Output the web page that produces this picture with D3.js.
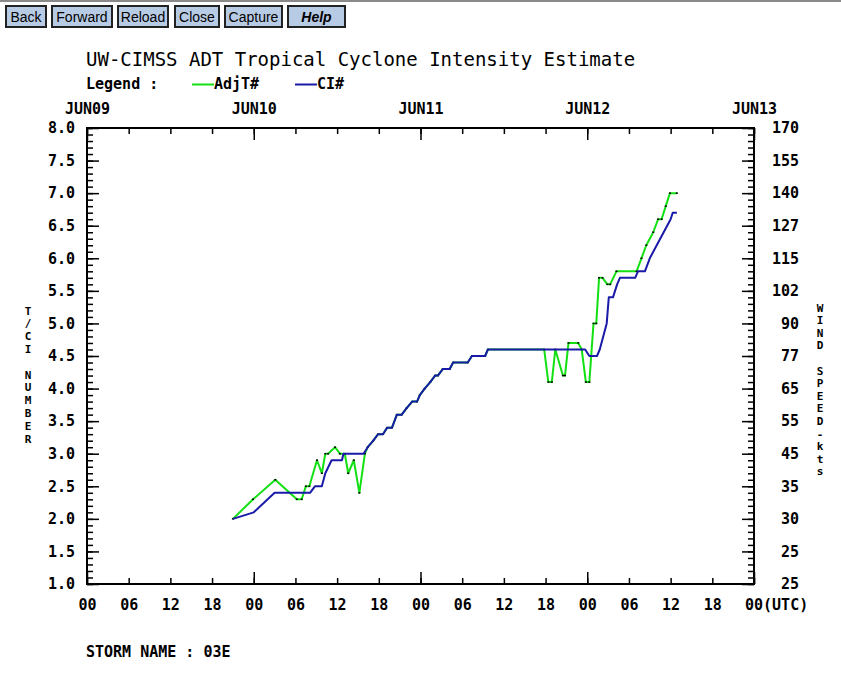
<!DOCTYPE html>
<html lang="en">
<head>
<meta charset="UTF-8">
<title>UW-CIMSS ADT Tropical Cyclone Intensity Estimate</title>
<script src="https://cdn.jsdelivr.net/npm/d3@7"></script>
<style>
  body { margin: 0; background: #fff; }
  svg { display: block; }
  .mono { font-family: "DejaVu Sans Mono", monospace; }
  .tick text { font-family: "DejaVu Sans Mono", monospace; font-size: 15px; font-weight: bold; fill: #000; }
  .tick line { stroke: #000; stroke-width: 1.5; }
  .domain { display: none; }
</style>
</head>
<body>
<svg id="chart" width="841" height="691"></svg>
<script>
// hours since JUN09 00 UTC
const ciTime  = [21, 24, 27, 32.1, 32.8, 33.8, 34.3, 35.2, 36.7, 36.9, 39.8, 40.4, 41.2, 41.9, 42.6, 43.2, 43.9, 44.6, 45.3, 46.0,
                 46.8, 47.5, 47.9, 48.6, 49.4, 50.1, 50.5, 51.2, 52.2, 52.7, 54.8, 55.4, 57.3, 57.7, 71.7, 72.3, 73.4, 73.8, 74.3, 74.8,
                 75.1, 75.7, 76.3, 76.7, 78.9, 79.3, 80.3, 81.0, 82.0, 83.0, 84.0, 84.3, 84.9];
const ciValue = [2.0, 2.1, 2.4, 2.4, 2.5, 2.5, 2.7, 2.9, 2.9, 3.0, 3.0, 3.1, 3.2, 3.3, 3.3, 3.4, 3.4, 3.6, 3.6, 3.7,
                 3.8, 3.8, 3.9, 4.0, 4.1, 4.2, 4.2, 4.3, 4.3, 4.4, 4.4, 4.5, 4.5, 4.6, 4.6, 4.5, 4.5, 4.6, 4.8, 5.0,
                 5.4, 5.4, 5.6, 5.7, 5.7, 5.8, 5.8, 6.0, 6.2, 6.4, 6.6, 6.7, 6.7];

const adjTime  = [21, 23.9, 27.1, 30.2, 30.9, 31.5, 32.0, 33.1, 33.8, 34.3, 34.7, 35.7, 36.4, 37.1, 37.6, 38.4, 39.2, 40.0,
                  40.4, 41.2, 41.9, 42.6, 43.2, 43.9, 44.6, 45.3, 46.0, 46.8, 47.5, 47.9, 48.6, 49.4, 50.1, 50.5, 51.2, 52.2,
                  52.7, 54.8, 55.4, 57.3, 57.7, 65.8, 66.4, 66.9, 67.4, 68.5, 68.8, 69.3, 70.7, 71.2, 71.8, 72.3, 72.9, 73.3,
                  73.7, 74.2, 74.9, 75.3, 76.2, 79.1, 79.8, 80.5, 81.5, 82.2, 82.7, 83.3, 83.9, 84.9];
const adjValue = [2.0, 2.3, 2.6, 2.3, 2.3, 2.5, 2.5, 2.9, 2.7, 3.0, 3.0, 3.1, 3.0, 3.0, 2.7, 2.9, 2.4, 3.0,
                  3.1, 3.2, 3.3, 3.3, 3.4, 3.4, 3.6, 3.6, 3.7, 3.8, 3.8, 3.9, 4.0, 4.1, 4.2, 4.2, 4.3, 4.3,
                  4.4, 4.4, 4.5, 4.5, 4.6, 4.6, 4.1, 4.1, 4.6, 4.2, 4.2, 4.7, 4.7, 4.6, 4.1, 4.1, 5.0, 5.0,
                  5.7, 5.7, 5.6, 5.6, 5.8, 5.8, 6.0, 6.2, 6.4, 6.6, 6.6, 6.8, 7.0, 7.0];

const tLabels    = [1.0, 1.5, 2.0, 2.5, 3.0, 3.5, 4.0, 4.5, 5.0, 5.5, 6.0, 6.5, 7.0, 7.5, 8.0];
const windLabels = ["25", "25", "30", "35", "45", "55", "65", "77", "90", "102", "115", "127", "140", "155", "170"];
const dayLabels  = ["JUN09", "JUN10", "JUN11", "JUN12", "JUN13"];
const hourLabels = ["00", "06", "12", "18"];
const buttons    = ["Back", "Forward", "Reload", "Close", "Capture", "Help"];

const svg = d3.select("#chart");

// browser button bar
svg.append("rect").attr("x", 0).attr("y", 0).attr("width", 841).attr("height", 2).attr("fill", "#8a8a8a");
const btnX = [5, 51, 117, 174, 224, 287];
const btnW = [42, 62, 52, 46, 59, 59];
buttons.forEach((b, i) => {
    svg.append("rect")
        .attr("x", btnX[i] + 1).attr("y", 6).attr("width", btnW[i] - 2).attr("height", 21)
        .attr("fill", "#b8cbe4").attr("stroke", "#222").attr("stroke-width", 2);
    svg.append("text")
        .attr("x", btnX[i] + btnW[i] / 2).attr("y", 21.5)
        .attr("text-anchor", "middle")
        .attr("font-family", "Liberation Sans, Arial, sans-serif")
        .attr("font-size", 14)
        .attr("font-style", b === "Help" ? "italic" : "normal")
        .attr("font-weight", b === "Help" ? "bold" : "normal")
        .text(b);
});

const x = d3.scaleLinear().domain([0, 96]).range([87, 754]);
const y = d3.scaleLinear().domain([1, 8]).range([584, 128]);

// title + legend
svg.append("text").attr("class", "mono").attr("x", 86).attr("y", 66)
    .attr("font-size", 19).text("UW-CIMSS ADT Tropical Cyclone Intensity Estimate");
svg.append("text").attr("class", "mono").attr("x", 86).attr("y", 89)
    .attr("font-size", 15).attr("font-weight", "bold").text("Legend :");
[["AdjT#", "#12e012", 192], ["CI#", "#1a1aa8", 295]].forEach(([name, col, lx]) => {
    svg.append("line").attr("x1", lx).attr("x2", lx + 22).attr("y1", 84.5).attr("y2", 84.5)
        .attr("stroke", col).attr("stroke-width", 2);
    svg.append("text").attr("class", "mono").attr("x", lx + 22).attr("y", 89)
        .attr("font-size", 15).attr("font-weight", "bold").text(name);
});

// axes (each tick set in its own group, otherwise the second call replaces the first)
const minorT = d3.range(10, 81).map(d => d / 10);
const sixHours = d3.range(0, 97, 6);
const days = d3.range(0, 97, 24);
const axisG = (tx, ty) => svg.append("g").attr("transform", `translate(${tx},${ty})`);

axisG(x(0), 0).call(d3.axisLeft(y).tickValues(minorT).tickSize(-6).tickFormat(""));
axisG(x(0), 0).call(d3.axisLeft(y).tickValues(tLabels).tickSize(-12).tickPadding(12).tickFormat(d3.format(".1f")));

axisG(x(96), 0).call(d3.axisRight(y).tickValues(minorT).tickSize(-6).tickFormat(""));
axisG(x(96), 0).call(d3.axisRight(y).tickValues(tLabels).tickSize(-12).tickFormat((d, i) => windLabels[i]))
    .selectAll("text").attr("x", 45).attr("text-anchor", "end");

axisG(0, y(1)).call(d3.axisBottom(x).tickValues(sixHours).tickSize(-6).tickPadding(15)
    .tickFormat((d, i) => i === sixHours.length - 1 ? "" : hourLabels[i % 4]));
const gB = axisG(0, y(1));
gB.call(d3.axisBottom(x).tickValues(days).tickSize(-12).tickFormat(""));
gB.append("text").attr("x", x(96) - 9).attr("y", 26).attr("text-anchor", "start")
    .attr("font-family", "DejaVu Sans Mono, monospace").attr("font-size", 15).attr("font-weight", "bold")
    .attr("fill", "#000").text("00(UTC)");

axisG(0, y(8)).call(d3.axisTop(x).tickValues(sixHours).tickSize(-6).tickFormat(""));
axisG(0, y(8)).call(d3.axisTop(x).tickValues(days).tickSize(-12).tickPadding(14).tickFormat((d, i) => dayLabels[i]));

// frame
svg.append("rect").attr("x", x(0)).attr("y", y(8)).attr("width", x(96) - x(0)).attr("height", y(1) - y(8))
    .attr("fill", "none").attr("stroke", "#000").attr("stroke-width", 2);

// vertical axis titles, one letter under the other
const stack = (str, cx, cy0, step) => {
    str.split("").forEach((c, i) => {
        svg.append("text").attr("class", "mono").attr("x", cx).attr("y", cy0 + i * step)
            .attr("text-anchor", "middle").attr("dominant-baseline", "central")
            .attr("font-size", 11).attr("font-weight", "bold").text(c);
    });
};
stack("T/CI NUMBER", 28, 311, 12.8);
stack("WIND SPEED-kts", 820, 308, 12.6);

// series
const line = d3.line().x(d => x(d[0])).y(d => y(d[1]));
const adjPts = adjTime.map((t, i) => [t, adjValue[i]]);
const ciPts = ciTime.map((t, i) => [t, ciValue[i]]);

svg.append("path").datum(adjPts).attr("d", line)
    .attr("fill", "none").attr("stroke", "#12e012").attr("stroke-width", 2).attr("stroke-linejoin", "round");
svg.append("g").selectAll("rect").data(adjPts).join("rect")
    .attr("x", d => x(d[0]) - 1).attr("y", d => y(d[1]) - 0.75)
    .attr("width", 2).attr("height", 1.5).attr("fill", "#000");
svg.append("path").datum(ciPts).attr("d", line)
    .attr("fill", "none").attr("stroke", "#1a1aa8").attr("stroke-width", 2).attr("stroke-linejoin", "round");

// storm name
svg.append("text").attr("class", "mono").attr("x", 86).attr("y", 657)
    .attr("font-size", 15).attr("font-weight", "bold").text("STORM NAME : 03E");
</script>
</body>
</html>
